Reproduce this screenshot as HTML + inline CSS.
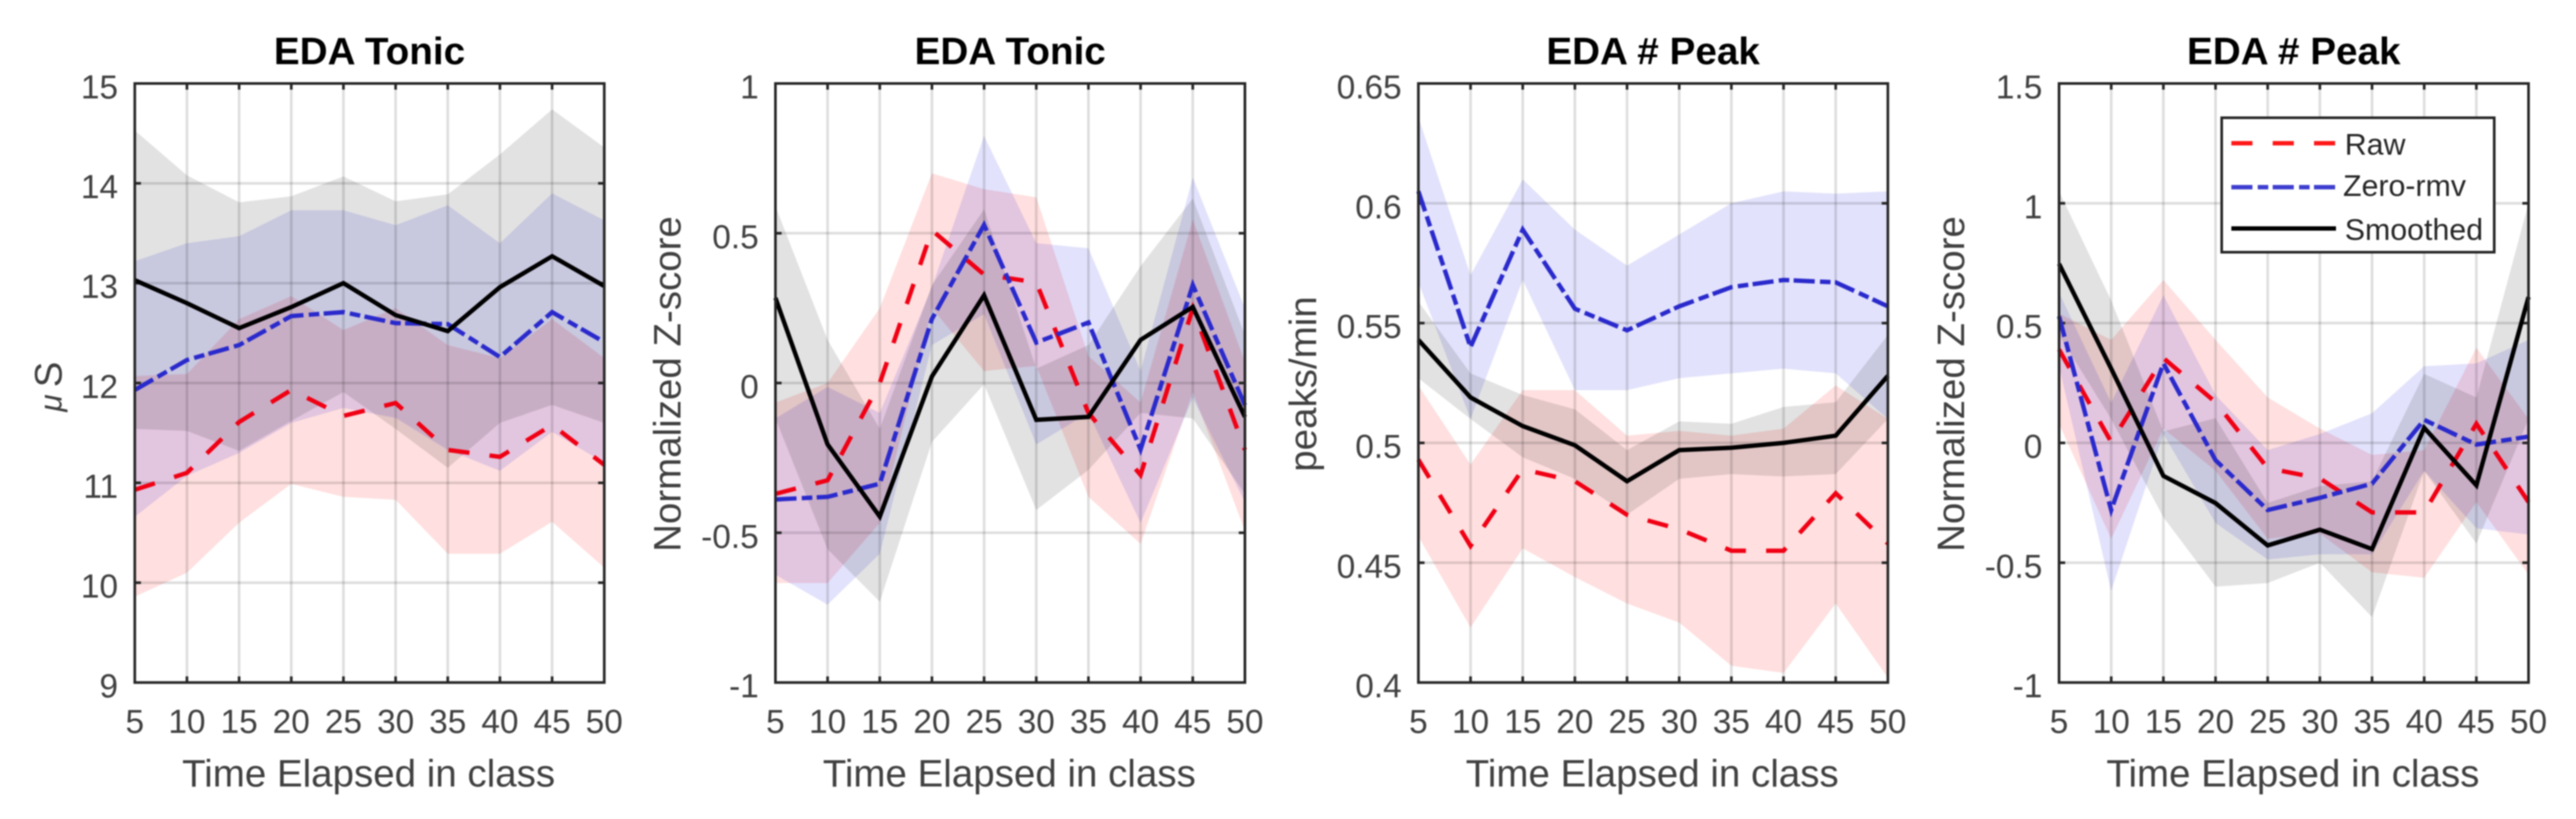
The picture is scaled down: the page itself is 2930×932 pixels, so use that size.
<!DOCTYPE html>
<html lang="en">
<head>
<meta charset="utf-8">
<title>EDA charts</title>
<style>
html,body{margin:0;padding:0;background:#fff;}
body{width:2930px;height:932px;overflow:hidden;}
svg{display:block;filter:blur(0.8px);}
text{font-family:"Liberation Sans",sans-serif;}
</style>
</head>
<body>
<svg id="figure" xmlns="http://www.w3.org/2000/svg" width="2930" height="932" viewBox="0 0 2930 932">
  <rect x="0" y="0" width="2930" height="932" fill="#fff"/>
  <g id="panels"></g>
  <g id="legend">
    <rect x="2527" y="134" width="310" height="153" fill="#fff" stroke="#262626" stroke-width="3"/>
    <line x1="2538" y1="163" x2="2657" y2="163" stroke="#f00" stroke-width="5" stroke-dasharray="24 23" opacity="0.9"/>
    <text x="2667" y="176" font-size="34.5" fill="#262626">Raw</text>
    <line x1="2538" y1="213" x2="2657" y2="213" stroke="#2a2acc" stroke-width="5" stroke-dasharray="24 6 12 5" opacity="0.9"/>
    <text x="2665" y="223" font-size="34.5" fill="#262626">Zero-rmv</text>
    <line x1="2538" y1="260" x2="2657" y2="260" stroke="#000" stroke-width="5"/>
    <text x="2667" y="273" font-size="34.5" fill="#262626">Smoothed</text>
  </g>
</svg>
<script>
// ---- shared categories ----
const categories = [5, 10, 15, 20, 25, 30, 35, 40, 45, 50];

// ---- panel 1: EDA Tonic (uS) ----
const p1Ticks = ['9', '10', '11', '12', '13', '14', '15'];
const p1Raw = [10.93, 11.1, 11.61, 11.93, 11.67, 11.8, 11.33, 11.26, 11.58, 11.18];
const p1RawHi = [12.07, 12.09, 12.64, 12.87, 12.53, 12.75, 12.38, 12.25, 12.64, 12.25];
const p1RawLo = [9.86, 10.1, 10.6, 10.99, 10.86, 10.83, 10.29, 10.29, 10.61, 10.15];
const p1Zero = [11.93, 12.23, 12.38, 12.67, 12.71, 12.6, 12.59, 12.26, 12.71, 12.41];
const p1ZeroHi = [13.22, 13.4, 13.47, 13.73, 13.73, 13.58, 13.78, 13.4, 13.9, 13.63];
const p1ZeroLo = [10.66, 11.07, 11.3, 11.6, 11.75, 11.65, 11.33, 11.12, 11.51, 11.2];
const p1Smooth = [13.03, 12.8, 12.55, 12.76, 13.0, 12.68, 12.52, 12.96, 13.27, 12.97];
const p1SmoothHi = [14.53, 14.08, 13.81, 13.87, 14.07, 13.82, 13.89, 14.29, 14.74, 14.36];
const p1SmoothLo = [11.54, 11.52, 11.32, 11.62, 11.91, 11.54, 11.15, 11.6, 11.78, 11.6];

// ---- panel 2: EDA Tonic (z-score) ----
const p2Ticks = ['-1', '-0.5', '0', '0.5', '1'];
const p2Raw = [-0.37, -0.325, -0.0, 0.51, 0.362, 0.336, -0.1, -0.307, 0.249, -0.223];
const p2RawHi = [-0.065, 0, 0.25, 0.70, 0.647, 0.62, 0.09, -0.065, 0.546, 0.07];
const p2RawLo = [-0.668, -0.668, -0.467, 0.25, 0.04, 0.057, -0.38, -0.537, -0.03, -0.493];
const p2Zero = [-0.389, -0.38, -0.336, 0.214, 0.528, 0.135, 0.202, -0.222, 0.327, -0.074];
const p2ZeroHi = [-0.118, -0.013, -0.1, 0.32, 0.825, 0.467, 0.45, 0.04, 0.686, 0.25];
const p2ZeroLo = [-0.64, -0.74, -0.57, 0.127, 0.23, -0.205, -0.1, -0.467, -0.05, -0.397];
const p2Smooth = [0.284, -0.205, -0.446, 0.022, 0.293, -0.123, -0.113, 0.144, 0.254, -0.113];
const p2SmoothHi = [0.59, 0.144, -0.153, 0.327, 0.58, 0.048, 0.127, 0.39, 0.616, 0.16];
const p2SmoothLo = [-0.118, -0.555, -0.73, -0.197, -0.004, -0.424, -0.29, -0.1, -0.118, -0.37];

// ---- panel 3: EDA # Peak (peaks/min) ----
const p3Ticks = ['0.4', '0.45', '0.5', '0.55', '0.6', '0.65'];
const p3Raw = [0.493, 0.457, 0.489, 0.484, 0.47, 0.464, 0.455, 0.455, 0.479, 0.458];
const p3RawHi = [0.524, 0.491, 0.522, 0.522, 0.503, 0.505, 0.503, 0.506, 0.524, 0.51];
const p3RawLo = [0.461, 0.423, 0.456, 0.444, 0.433, 0.425, 0.407, 0.404, 0.433, 0.402];
const p3Zero = [0.605, 0.54, 0.589, 0.556, 0.547, 0.557, 0.565, 0.568, 0.567, 0.557];
const p3ZeroHi = [0.636, 0.57, 0.61, 0.589, 0.574, 0.587, 0.6, 0.605, 0.604, 0.605];
const p3ZeroLo = [0.567, 0.51, 0.568, 0.522, 0.522, 0.527, 0.529, 0.531, 0.529, 0.51];
const p3Smooth = [0.543, 0.519, 0.507, 0.499, 0.484, 0.497, 0.498, 0.5, 0.503, 0.528];
const p3SmoothHi = [0.559, 0.529, 0.52, 0.514, 0.497, 0.509, 0.508, 0.515, 0.517, 0.545];
const p3SmoothLo = [0.527, 0.51, 0.494, 0.485, 0.47, 0.485, 0.487, 0.486, 0.487, 0.51];

// ---- panel 4: EDA # Peak (z-score) ----
const p4Ticks = ['-1', '-0.5', '0', '0.5', '1', '1.5'];
const p4Raw = [0.39, 0.004, 0.354, 0.17, -0.105, -0.148, -0.29, -0.29, 0.08, -0.247];
const p4RawHi = [0.54, 0.43, 0.68, 0.43, 0.19, 0.06, -0.05, -0.03, 0.397, 0.1];
const p4RawLo = [0.08, -0.4, 0.06, -0.116, -0.4, -0.378, -0.54, -0.563, -0.247, -0.55];
const p4Zero = [0.528, -0.28, 0.332, -0.072, -0.28, -0.229, -0.17, 0.096, -0.007, 0.026];
const p4ZeroHi = [0.627, 0.168, 0.616, 0.2, -0.03, 0.037, 0.124, 0.32, 0.332, 0.43];
const p4ZeroLo = [0.32, -0.618, 0.037, -0.334, -0.487, -0.465, -0.465, -0.116, -0.356, -0.382];
const p4Smooth = [0.747, 0.31, -0.138, -0.251, -0.428, -0.362, -0.443, 0.063, -0.177, 0.609];
const p4SmoothHi = [1.05, 0.594, 0.048, 0.103, -0.25, -0.18, -0.16, 0.288, 0.19, 1.0];
const p4SmoothLo = [0.45, 0.1, -0.31, -0.6, -0.585, -0.5, -0.727, -0.116, -0.42, 0.1];

// ---- layout (not data) ----
const NS = 'http://www.w3.org/2000/svg';
const plotTop = 95, plotBottom = 776.7, plotWidth = 534;

const panels = [
  {id:'panel-1', left:153.3, title:'EDA Tonic', yLabel:'S', yLabelPrefix:'\u03bc', yLabelX:70, yLabelY:440, ticks:p1Ticks,
   raw:p1Raw, rawHi:p1RawHi, rawLo:p1RawLo, zero:p1Zero, zeroHi:p1ZeroHi, zeroLo:p1ZeroLo, smooth:p1Smooth, smoothHi:p1SmoothHi, smoothLo:p1SmoothLo},
  {id:'panel-2', left:882, title:'EDA Tonic', yLabel:'Normalized Z-score', yLabelPrefix:'', yLabelX:774, yLabelY:437, ticks:p2Ticks,
   raw:p2Raw, rawHi:p2RawHi, rawLo:p2RawLo, zero:p2Zero, zeroHi:p2ZeroHi, zeroLo:p2ZeroLo, smooth:p2Smooth, smoothHi:p2SmoothHi, smoothLo:p2SmoothLo},
  {id:'panel-3', left:1613.3, title:'EDA # Peak', yLabel:'peaks/min', yLabelPrefix:'', yLabelX:1497, yLabelY:437, ticks:p3Ticks,
   raw:p3Raw, rawHi:p3RawHi, rawLo:p3RawLo, zero:p3Zero, zeroHi:p3ZeroHi, zeroLo:p3ZeroLo, smooth:p3Smooth, smoothHi:p3SmoothHi, smoothLo:p3SmoothLo},
  {id:'panel-4', left:2342, title:'EDA # Peak', yLabel:'Normalized Z-score', yLabelPrefix:'', yLabelX:2234, yLabelY:437, ticks:p4Ticks,
   raw:p4Raw, rawHi:p4RawHi, rawLo:p4RawLo, zero:p4Zero, zeroHi:p4ZeroHi, zeroLo:p4ZeroLo, smooth:p4Smooth, smoothHi:p4SmoothHi, smoothLo:p4SmoothLo}
];

function make(tag, attrs, parent) {
  const el = document.createElementNS(NS, tag);
  for (const k in attrs) el.setAttribute(k, attrs[k]);
  parent.appendChild(el);
  return el;
}

function drawPanel(panel) {
  const root = document.getElementById('panels');
  const g = make('g', {}, root);
  
  

  const xMin = categories[0], xMax = categories[categories.length - 1];
  const yMin = parseFloat(panel.ticks[0]), yMax = parseFloat(panel.ticks[panel.ticks.length - 1]);
  const xScale = v => panel.left + (v - xMin) / (xMax - xMin) * plotWidth;
  const yScale = v => plotBottom - (v - yMin) / (yMax - yMin) * (plotBottom - plotTop);
  const right = panel.left + plotWidth;

  const bands = [
    {key:'raw-band', hi:panel.rawHi, lo:panel.rawLo, color:'#ff0000', alpha:0.125},
    {key:'zero-rmv-band', hi:panel.zeroHi, lo:panel.zeroLo, color:'#0000e6', alpha:0.115},
    {key:'smoothed-band', hi:panel.smoothHi, lo:panel.smoothLo, color:'#000000', alpha:0.115}
  ];
  bands.forEach(b => {
    const upper = categories.map((c, i) => xScale(c).toFixed(1) + ',' + yScale(b.hi[i]).toFixed(1));
    const lower = categories.map((c, i) => xScale(c).toFixed(1) + ',' + yScale(b.lo[i]).toFixed(1)).reverse();
    const poly = make('polygon', {points: upper.concat(lower).join(' '), fill: b.color, 'fill-opacity': b.alpha}, g);
    
    
  });

  categories.forEach(c => {
    const x = xScale(c);
    if (c !== xMin && c !== xMax) {
      const grid = make('line', {x1:x, y1:plotTop, x2:x, y2:plotBottom, stroke:'#000', 'stroke-opacity':0.13, 'stroke-width':3}, g);
      
      
      const tickB = make('line', {x1:x, y1:plotBottom, x2:x, y2:plotBottom - 7, stroke:'#262626', 'stroke-width':3}, g);
      
      
      const tickT = make('line', {x1:x, y1:plotTop, x2:x, y2:plotTop + 7, stroke:'#262626', 'stroke-width':3}, g);
      
      
    }
    const lab = make('text', {x:x, y:834, 'font-size':38, 'text-anchor':'middle', fill:'#404040'}, g);
    lab.textContent = String(c);
    
    
  });

  panel.ticks.forEach(t => {
    const v = parseFloat(t);
    const y = yScale(v);
    if (v !== yMin && v !== yMax) {
      const grid = make('line', {x1:panel.left, y1:y, x2:right, y2:y, stroke:'#000', 'stroke-opacity':0.13, 'stroke-width':3}, g);
      
      
      const tickL = make('line', {x1:panel.left, y1:y, x2:panel.left + 7, y2:y, stroke:'#262626', 'stroke-width':3}, g);
      
      
      const tickR = make('line', {x1:right, y1:y, x2:right - 7, y2:y, stroke:'#262626', 'stroke-width':3}, g);
      
      
    }
    const lab = make('text', {x:panel.left - 19, y:y + 17, 'font-size':38, 'text-anchor':'end', fill:'#404040'}, g);
    lab.textContent = t;
    
    
  });

  const series = [
    {key:'raw-line', values:panel.raw, color:'#f00014', dash:'24 23', width:5},
    {key:'zero-rmv-line', values:panel.zero, color:'#2a2acc', dash:'24 6 12 5', width:5},
    {key:'smoothed-line', values:panel.smooth, color:'#000000', dash:'', width:5}
  ];
  series.forEach(s => {
    const pts = categories.map((c, i) => xScale(c).toFixed(1) + ',' + yScale(s.values[i]).toFixed(1)).join(' ');
    const line = make('polyline', {points:pts, fill:'none', stroke:s.color, 'stroke-width':s.width, 'stroke-linejoin':'miter'}, g);
    if (s.dash) line.setAttribute('stroke-dasharray', s.dash);
    
    
  });

  const frame = make('rect', {x:panel.left, y:plotTop, width:plotWidth, height:plotBottom - plotTop, fill:'none', stroke:'#262626', 'stroke-width':3}, g);
  
  

  const title = make('text', {x:panel.left + plotWidth / 2, y:73, 'font-size':44, 'font-weight':'bold', 'text-anchor':'middle', fill:'#000'}, g);
  title.textContent = panel.title;
  
  

  const xTitle = make('text', {x:panel.left + plotWidth / 2 - 1, y:895, 'font-size':43.8, 'text-anchor':'middle', fill:'#404040'}, g);
  xTitle.textContent = 'Time Elapsed in class';
  
  

  const yTitle = make('text', {x:0, y:0, 'font-size':43.8, 'text-anchor':'middle', fill:'#404040', transform:'translate(' + panel.yLabelX + ',' + panel.yLabelY + ') rotate(-90)'}, g);
  if (panel.yLabelPrefix) {
    const prefix = make('tspan', {'font-style':'italic', 'font-size':36, dx:0}, yTitle);
    prefix.textContent = panel.yLabelPrefix;
    
    
    const rest = make('tspan', {dx:8}, yTitle);
    rest.textContent = panel.yLabel;
    
    
  } else {
    yTitle.textContent = panel.yLabel;
  }
  
  
}

panels.forEach(drawPanel);
</script>
</body>
</html>
